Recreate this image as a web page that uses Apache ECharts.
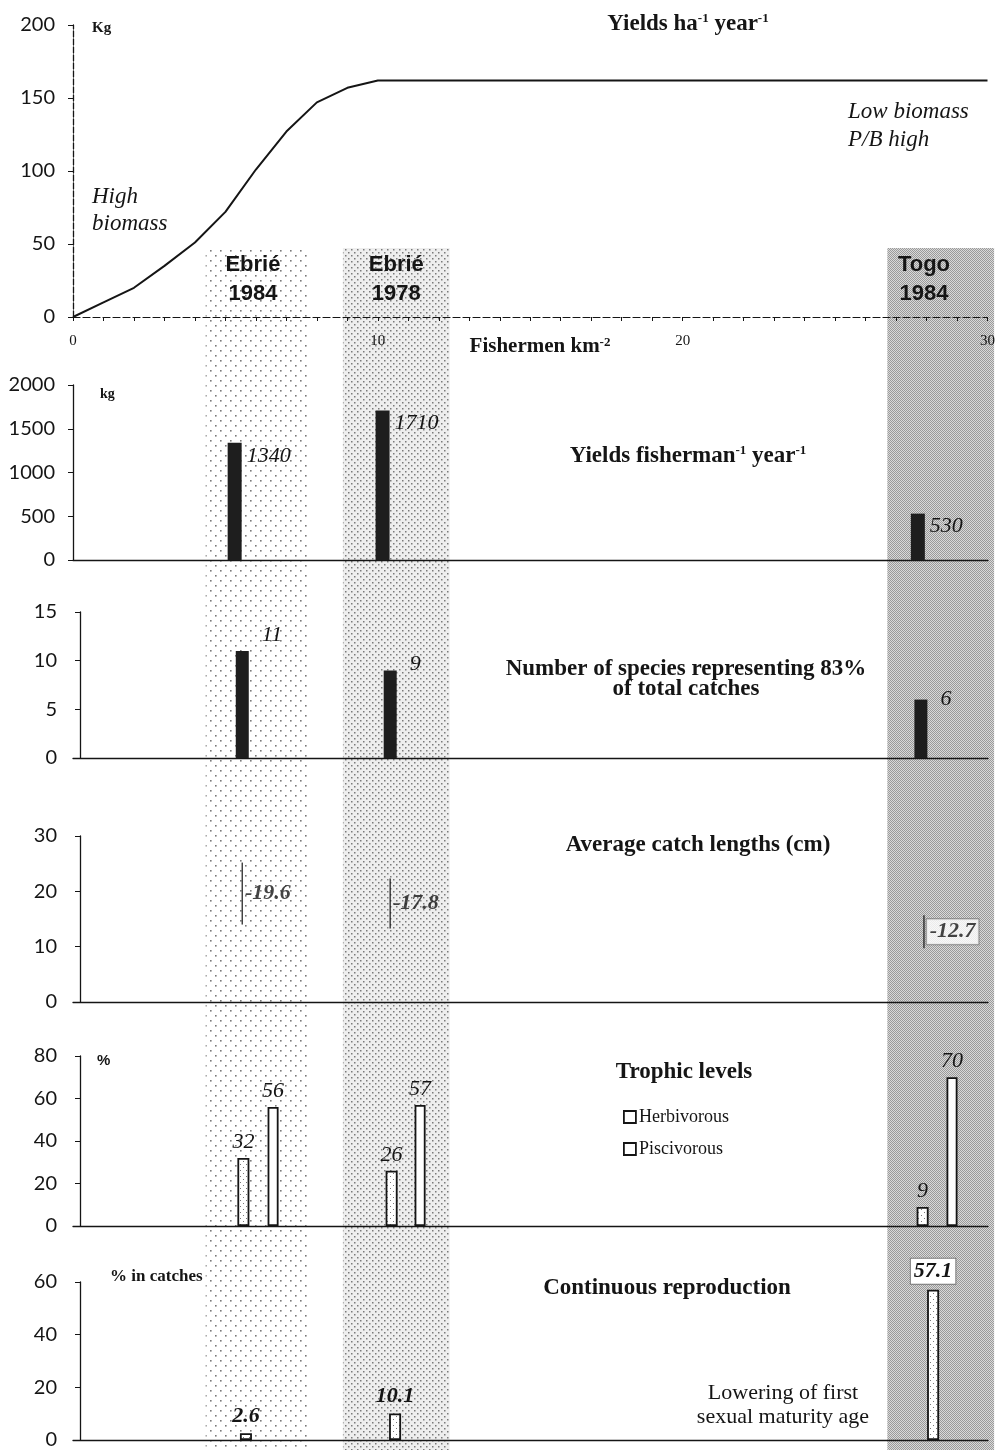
<!DOCTYPE html>
<html>
<head>
<meta charset="utf-8">
<script src="https://cdn.jsdelivr.net/npm/echarts@6/dist/echarts.min.js"></script>
<style>
html, body { margin: 0; padding: 0; background: #fff; }
#box { width: 998px; height: 1450px; }
</style>
</head>
<body>
<div id="box"></div>
<script>
// sites along the fishing pressure gradient (fishermen km-2)
const siteNames = ['Ebrié\n1984', 'Ebrié\n1978', 'Togo\n1984'];
const siteCentre = [5.9, 10.6, 27.9];
const bandFrom = [4.35, 8.85, 26.7];
const bandTo = [7.7, 12.35, 30.2];

// yields ha-1 year-1
const yieldCurve = [[0, 0], [1, 10], [2, 20], [3, 35], [4, 51], [5, 72], [6, 101], [7, 127], [8, 147], [9, 157], [10, 162], [30, 162]];

// yields fisherman-1 year-1 (kg)
const fisherX = [5.3, 10.15, 27.7];
const yieldPerFisher = [1340, 1710, 530];

// number of species representing 83% of catches
const speciesX = [5.55, 10.4, 27.8];
const speciesCount = [11, 9, 6];

// average catch lengths (cm)
const lengthX = [5.55, 10.4, 27.9];
const catchLength = [19.6, 17.8, 12.7];

// trophic levels (%)
const herbX = [5.57, 10.43, 27.84];
const herbivorous = [32, 26, 9];
const piscX = [6.56, 11.38, 28.82];
const piscivorous = [56, 57, 70];

// continuous reproduction (% in catches)
const reproX = [5.67, 10.56, 28.2];
const continuous = [2.6, 10.1, 57.1];

const SERIF = '"Liberation Serif", "DejaVu Serif", serif';
const SANS = 'Lato, "Liberation Sans", sans-serif';
const INK = '#151515';

function stipple(step, dot, ink, paper) {
    const c = document.createElement('canvas');
    c.width = c.height = step * 2;
    const g = c.getContext('2d');
    if (paper) {
        g.fillStyle = paper;
        g.fillRect(0, 0, c.width, c.height);
    }
    g.fillStyle = ink;
    g.fillRect(0, 0, dot, dot);
    g.fillRect(step, step, dot, dot);
    return { image: c, repeat: 'repeat' };
}

const bandFills = [
    stipple(5, 1.6, '#7a7a7a', '#ffffff'),
    stipple(3, 1.5, '#7a7a7a', '#eeeeee'),
    stipple(1, 1, '#9a9a9a', '#d9d9d9')
];
const barSpeckle = stipple(3, 1, '#777', '#ffffff');

const grids = [
    { top: 25, height: 292 },
    { top: 385, height: 175 },
    { top: 612, height: 146 },
    { top: 836, height: 166 },
    { top: 1056, height: 170 },
    { top: 1282, height: 165 },
    { top: 248, bottom: 0 }
].map(g => Object.assign({ left: 73, right: 10 }, g));

function plainX(i) {
    return {
        gridIndex: i, type: 'value', min: 0, max: 30,
        axisLine: { show: i < 6, lineStyle: { color: INK, width: 1.3 } },
        axisTick: { show: false }, axisLabel: { show: false }, splitLine: { show: false }
    };
}

function valueY(i, max, interval, offset, dashed) {
    return {
        gridIndex: i, type: 'value', min: 0, max: max, interval: interval, offset: offset,
        axisLine: { show: true, lineStyle: { color: INK, width: 1.3, type: dashed ? [6, 2] : 'solid' } },
        axisTick: { show: true, length: 5, lineStyle: { color: INK } },
        axisLabel: {
            fontFamily: SANS, fontSize: 20, color: INK,
            margin: offset ? 23 : 18, formatter: v => String(v)
        },
        splitLine: { show: false }
    };
}

const xAxes = [0, 1, 2, 3, 4, 5, 6].map(plainX);
xAxes[0] = {
    gridIndex: 0, type: 'value', min: 0, max: 30, interval: 1,
    axisLine: { lineStyle: { color: INK, width: 1.2, type: [7, 3] } },
    axisTick: { show: true, length: 4, lineStyle: { color: INK } },
    axisLabel: {
        formatter: v => (v % 10 === 0 ? String(v) : ''),
        fontFamily: SERIF, fontSize: 15, color: INK, margin: 17
    },
    splitLine: { show: false }
};

const yAxes = [
    valueY(0, 200, 50, 0, true),
    valueY(1, 2000, 500, 0, false),
    valueY(2, 15, 5, -7, false),
    valueY(3, 30, 10, -7, false),
    valueY(4, 80, 20, -7, false),
    valueY(5, 60, 20, -7, false),
    { gridIndex: 6, type: 'value', min: 0, max: 1, show: false }
];

const numLabel = (bold) => ({
    show: true, fontFamily: SERIF, fontStyle: 'italic',
    fontWeight: bold ? 'bold' : 'normal', fontSize: 22, color: INK
});

const markLen = [62, 50, 33];
const speciesDy = [-27, -17, -11];
const boxed = { backgroundColor: '#fff', borderColor: '#777', borderWidth: 1, padding: [2, 3, 1, 3] };

const series = [
    {
        type: 'custom', xAxisIndex: 6, yAxisIndex: 6, z: -1, silent: true,
        data: bandFrom.map((f, i) => [f, bandTo[i], siteCentre[i], i]),
        renderItem(params, api) {
            const cs = params.coordSys;
            const x0 = api.coord([api.value(0), 0])[0];
            const x1 = api.coord([api.value(1), 0])[0];
            const xc = api.coord([api.value(2), 0])[0];
            const i = api.value(3);
            return {
                type: 'group',
                children: [
                    { type: 'rect', shape: { x: x0, y: cs.y, width: x1 - x0, height: cs.height }, style: { fill: bandFills[i] } },
                    {
                        type: 'text',
                        style: {
                            x: xc, y: 279, text: siteNames[i], fill: INK,
                            font: 'bold 22px "Liberation Sans", Arial, sans-serif',
                            lineHeight: 29, align: 'center', verticalAlign: 'middle'
                        }
                    }
                ]
            };
        }
    },
    {
        type: 'line', xAxisIndex: 0, yAxisIndex: 0, data: yieldCurve,
        showSymbol: false, lineStyle: { color: INK, width: 2 }, z: 4
    },
    {
        type: 'bar', xAxisIndex: 1, yAxisIndex: 1, barWidth: 14,
        data: yieldPerFisher.map((v, i) => [fisherX[i], v]),
        itemStyle: { color: '#1e1e1e' },
        label: Object.assign(numLabel(false), { position: [19, 2], formatter: p => p.value[1] })
    },
    {
        type: 'bar', xAxisIndex: 2, yAxisIndex: 2, barWidth: 13,
        data: speciesCount.map((v, i) => ({ value: [speciesX[i], v], label: { position: [26, speciesDy[i]] } })),
        itemStyle: { color: '#1e1e1e' },
        label: Object.assign(numLabel(false), { formatter: p => p.value[1] })
    },
    {
        type: 'scatter', xAxisIndex: 3, yAxisIndex: 3, symbol: 'rect',
        data: catchLength.map((v, i) => ({
            value: [lengthX[i], v],
            symbolSize: [1.5, markLen[i]],
            label: i === 2 ? boxed : {}
        })),
        itemStyle: { color: INK },
        label: Object.assign(numLabel(true), { position: 'right', distance: 2, formatter: p => '-' + p.value[1].toFixed(1) })
    },
    {
        name: 'Herbivorous', type: 'bar', xAxisIndex: 4, yAxisIndex: 4, barWidth: 12, barGap: '-100%',
        data: herbivorous.map((v, i) => [herbX[i], v]),
        itemStyle: { color: barSpeckle, borderColor: INK, borderWidth: 1.8 },
        label: Object.assign(numLabel(false), { position: 'top', distance: 5, formatter: p => p.value[1] })
    },
    {
        name: 'Piscivorous', type: 'bar', xAxisIndex: 4, yAxisIndex: 4, barWidth: 11, barGap: '-100%',
        data: piscivorous.map((v, i) => [piscX[i], v]),
        itemStyle: { color: '#fff', borderColor: INK, borderWidth: 1.8 },
        label: Object.assign(numLabel(false), { position: 'top', distance: 5, formatter: p => p.value[1] })
    },
    {
        type: 'bar', xAxisIndex: 5, yAxisIndex: 5, barWidth: 12,
        data: continuous.map((v, i) => ({ value: [reproX[i], v], label: i === 2 ? boxed : {} })),
        itemStyle: { color: barSpeckle, borderColor: INK, borderWidth: 1.8 },
        label: Object.assign(numLabel(true), { position: 'top', distance: 6, formatter: p => p.value[1].toFixed(1) })
    }
];

// free text on the figure
const sup = { fontSize: 13, fontWeight: 'bold', fontFamily: SERIF, verticalAlign: 'top', fill: INK };
function txt(x, y, text, font, align, extra) {
    return {
        type: 'text', x: x, y: y, z: 10,
        style: Object.assign({
            text: text, font: font, fill: INK,
            align: align || 'left', verticalAlign: 'middle'
        }, extra || {})
    };
}
const titleFont = 'bold 23px ' + SERIF;
const richTitle = { t: { font: titleFont, fill: INK }, s: sup };

const graphics = [
    txt(688, 24, '{t|Yields ha}{s|-1}{t| year}{s|-1}', titleFont, 'center', { rich: richTitle }),
    txt(92, 28, 'Kg', 'bold 15px ' + SERIF),
    txt(92, 210, 'High\nbiomass', 'italic 23px ' + SERIF, 'left', { lineHeight: 27 }),
    txt(848, 126, 'Low biomass\nP/B high', 'italic 23px ' + SERIF, 'left', { lineHeight: 28 }),
    txt(540, 347, '{t|Fishermen km}{s|-2}', 'bold 21px ' + SERIF, 'center',
        { rich: { t: { font: 'bold 21px ' + SERIF, fill: INK }, s: sup } }),
    txt(100, 394, 'kg', 'bold 14px ' + SERIF),
    txt(688, 456, '{t|Yields fisherman}{s|-1}{t| year}{s|-1}', titleFont, 'center', { rich: richTitle }),
    txt(686, 679, 'Number of species representing 83%\nof total catches', titleFont, 'center', { lineHeight: 20 }),
    txt(698, 845, 'Average catch lengths (cm)', titleFont, 'center'),
    txt(97, 1061, '%', 'bold 15px "Liberation Sans", sans-serif'),
    txt(684, 1072, 'Trophic levels', titleFont, 'center'),
    txt(110, 1277, '% in catches', 'bold 17px ' + SERIF),
    txt(667, 1288, 'Continuous reproduction', titleFont, 'center'),
    txt(783, 1405, 'Lowering of first\nsexual maturity age', '22px ' + SERIF, 'center', { lineHeight: 24 })
];

const option = {
    animation: false,
    backgroundColor: '#fff',
    grid: grids,
    xAxis: xAxes,
    yAxis: yAxes,
    legend: {
        data: ['Herbivorous', 'Piscivorous'],
        orient: 'vertical', left: 623, top: 1108, padding: 0,
        itemWidth: 12, itemHeight: 12, itemGap: 14, icon: 'rect',
        itemStyle: { color: '#fff', borderColor: INK, borderWidth: 1.8 },
        textStyle: { fontFamily: SERIF, fontSize: 18, color: INK, padding: [0, 0, 0, -2] }
    },
    graphic: graphics,
    series: series
};

const chart = echarts.init(document.getElementById('box'));
chart.setOption(option);
</script>
</body>
</html>
